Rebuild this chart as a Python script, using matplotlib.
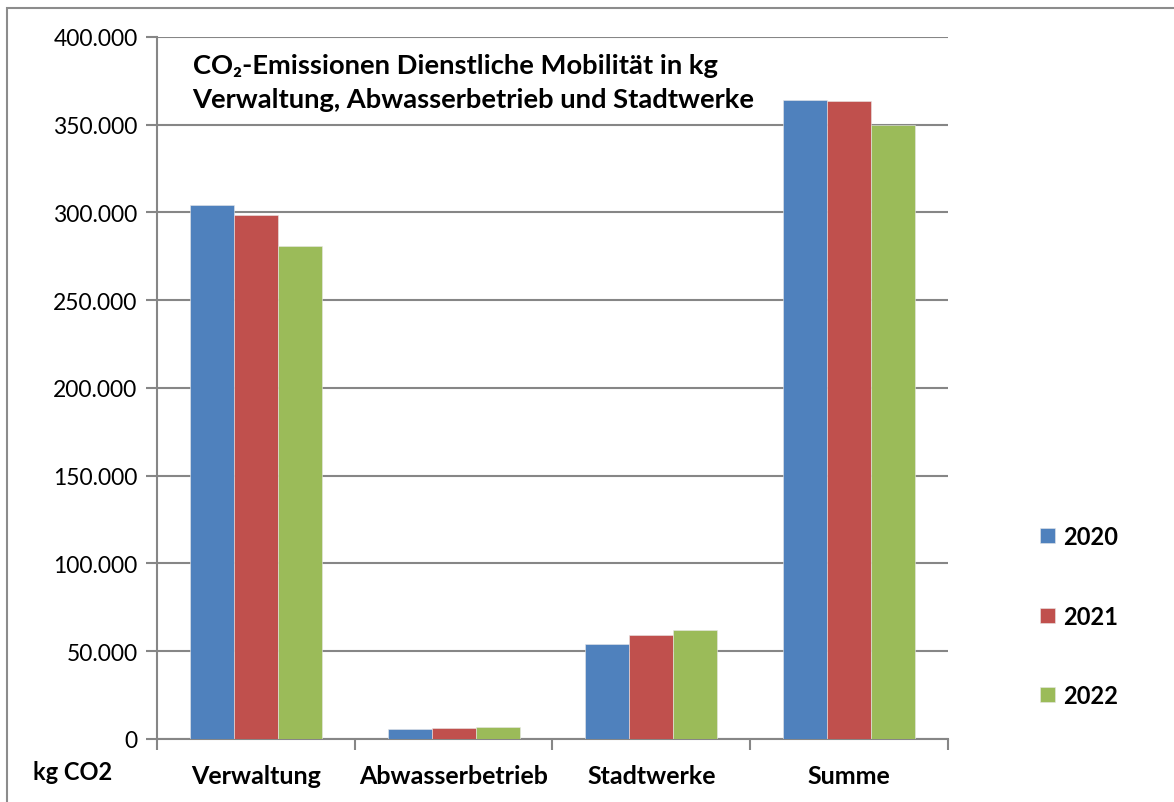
import matplotlib
matplotlib.use("Agg")
import matplotlib.pyplot as plt
from matplotlib.patches import Rectangle
from matplotlib.ticker import FuncFormatter
import numpy as np

plt.rcParams["font.family"] = ["Lato", "DejaVu Sans"]

# data
categories = ["Verwaltung", "Abwasserbetrieb", "Stadtwerke", "Summe"]
years = ["2020", "2021", "2022"]
values_2020 = [304000, 5700, 54000, 364000]
values_2021 = [298500, 6300, 59000, 363500]
values_2022 = [281000, 6800, 62000, 350000]
series = [values_2020, values_2021, values_2022]
colors = ["#4F81BD", "#C0504D", "#9BBB59"]
y_ticks = [0, 50000, 100000, 150000, 200000, 250000, 300000, 350000, 400000]
title_lines = ["CO\u2082-Emissionen Dienstliche Mobilität in kg",
               "Verwaltung, Abwasserbetrieb und Stadtwerke"]

fig = plt.figure(figsize=(11.74, 8.03), dpi=100)
ax = fig.add_axes([0.1337, 0.0785, 0.8075 - 0.1337, 0.9527 - 0.0785])

# outer chart frame (only top/left visible in crop)
fig.patches.append(Rectangle((7 / 1174, -0.1), 1.2, 1 - 9 / 803 + 0.1,
                             transform=fig.transFigure, fill=False,
                             edgecolor="#8c8c8c", linewidth=1.5))

x = np.arange(len(categories))
width = 2 / 9
for i, (vals, col, yr) in enumerate(zip(series, colors, years)):
    ax.bar(x + (i - 1) * width, vals, width, color=col, label=yr,
           edgecolor="#e8e8e8", linewidth=0.4, zorder=3)

ax.set_xlim(-0.5, len(categories) - 0.5)
ax.set_ylim(0, 400000)
ax.set_yticks(y_ticks)
ax.yaxis.set_major_formatter(FuncFormatter(lambda v, p: f"{int(v):,}".replace(",", ".")))
ax.grid(axis="y", color="#868686", linewidth=1.5, zorder=0)
ax.set_axisbelow(True)

# category tick marks at boundaries, labels centered
ax.set_xticks(np.arange(len(categories) + 1) - 0.5)
ax.set_xticklabels([])
ax.set_xticks(x, minor=True)
ax.set_xticklabels(categories, minor=True, fontsize=18, fontweight="bold")
ax.tick_params(axis="x", which="minor", length=0, pad=18)
ax.tick_params(axis="x", which="major", length=8, width=1.5, color="#868686")
ax.tick_params(axis="y", length=8, width=1.5, color="#868686", labelsize=16.5, pad=6)

for s in ["top", "right"]:
    ax.spines[s].set_visible(False)
for s in ["left", "bottom"]:
    ax.spines[s].set_color("#868686")
    ax.spines[s].set_linewidth(1.5)

# two-line title inside the plot area
for line, ypos in zip(title_lines, [0.960, 0.912]):
    ax.text(0.045, ypos, line, transform=ax.transAxes, fontsize=19.7,
            fontweight="bold", va="center", ha="left")

fig.text(33 / 1174, 1 - 773 / 803, "kg CO2", fontsize=17, fontweight="bold",
         va="center", ha="left")

leg = ax.legend(loc="center left", bbox_to_anchor=(1.09, 0.175), frameon=False,
                prop={"size": 17, "weight": "bold"}, handlelength=0.6,
                handleheight=0.6, handletextpad=0.35, labelspacing=2.4)

fig.savefig("out.png", dpi=100)
